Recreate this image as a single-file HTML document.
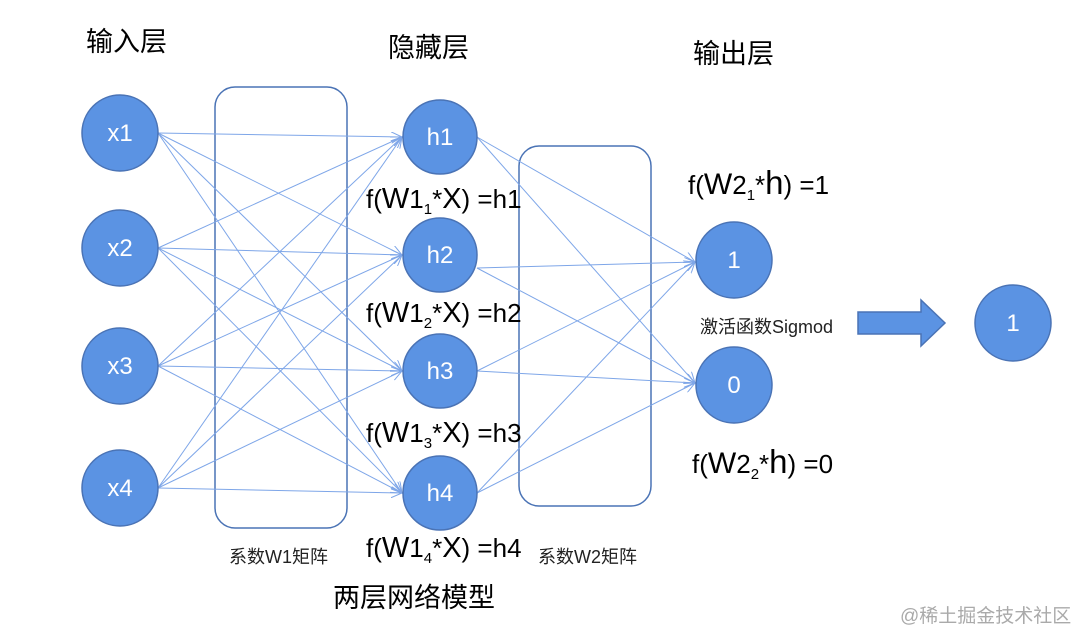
<!DOCTYPE html>
<html><head><meta charset="utf-8"><style>
html,body{margin:0;padding:0;background:#fff;}
svg{display:block;font-family:"Liberation Sans","Noto Sans CJK SC",sans-serif;}
</style></head><body>
<svg width="1080" height="644" viewBox="0 0 1080 644">
<defs>
<marker id="a" markerWidth="12" markerHeight="10" refX="11" refY="5" orient="auto" markerUnits="userSpaceOnUse">
<path d="M0,0 L11,5 L0,10" fill="none" stroke="#7ea6e8" stroke-width="1"/>
</marker>
</defs>
<rect x="215" y="87" width="132" height="441" rx="20" fill="none" stroke="#4a73b5" stroke-width="1.5"/>
<rect x="519" y="146" width="132" height="360" rx="20" fill="none" stroke="#4a73b5" stroke-width="1.5"/>
<g stroke="#7ea6e8" stroke-width="1" marker-end="url(#a)">
<line x1="158" y1="133" x2="402" y2="137"/><line x1="158" y1="133" x2="402" y2="255"/><line x1="158" y1="133" x2="402" y2="371"/><line x1="158" y1="133" x2="402" y2="493"/>
<line x1="158" y1="248" x2="402" y2="137"/><line x1="158" y1="248" x2="402" y2="255"/><line x1="158" y1="248" x2="402" y2="371"/><line x1="158" y1="248" x2="402" y2="493"/>
<line x1="158" y1="366" x2="402" y2="137"/><line x1="158" y1="366" x2="402" y2="255"/><line x1="158" y1="366" x2="402" y2="371"/><line x1="158" y1="366" x2="402" y2="493"/>
<line x1="158" y1="488" x2="402" y2="137"/><line x1="158" y1="488" x2="402" y2="255"/><line x1="158" y1="488" x2="402" y2="371"/><line x1="158" y1="488" x2="402" y2="493"/>
<line x1="477" y1="137" x2="695" y2="262"/><line x1="477" y1="137" x2="695" y2="383"/>
<line x1="477" y1="268" x2="695" y2="262"/><line x1="477" y1="268" x2="695" y2="383"/>
<line x1="477" y1="371" x2="695" y2="262"/><line x1="477" y1="371" x2="695" y2="383"/>
<line x1="477" y1="493" x2="695" y2="262"/><line x1="477" y1="493" x2="695" y2="383"/>
</g>
<g fill="#5b93e3" stroke="#4a73b5" stroke-width="1.5">
<circle cx="120" cy="133" r="38"/><circle cx="120" cy="248" r="38"/><circle cx="120" cy="366" r="38"/><circle cx="120" cy="488" r="38"/>
<circle cx="440" cy="137" r="37"/><circle cx="440" cy="255" r="37"/><circle cx="440" cy="371" r="37"/><circle cx="440" cy="493" r="37"/>
<circle cx="734" cy="260" r="38"/><circle cx="734" cy="385" r="38"/>
<circle cx="1013" cy="323" r="38"/>
<path d="M858,312 L921,312 L921,300 L945,323 L921,346 L921,334 L858,334 Z"/>
</g>
<g fill="#fff" font-size="24" text-anchor="middle">
<text x="120" y="141">x1</text><text x="120" y="256">x2</text><text x="120" y="374">x3</text><text x="120" y="496">x4</text>
<text x="440" y="145">h1</text><text x="440" y="263">h2</text><text x="440" y="379">h3</text><text x="440" y="501">h4</text>
<text x="734" y="268">1</text><text x="734" y="393">0</text><text x="1013" y="331">1</text>
</g>
<g fill="#000" font-size="27">
<text x="86" y="51">输入层</text>
<text x="388" y="57">隐藏层</text>
<text x="693" y="63">输出层</text>
<text x="333" y="607">两层网络模型</text>
</g>
<g fill="#000" font-size="26">
<text x="366" y="208">f(<tspan font-size="29">W</tspan>1<tspan font-size="15" dy="6">1</tspan><tspan dy="-6">*</tspan><tspan font-size="29">X</tspan>) =h1</text>
<text x="366" y="322">f(<tspan font-size="29">W</tspan>1<tspan font-size="15" dy="6">2</tspan><tspan dy="-6">*</tspan><tspan font-size="29">X</tspan>) =h2</text>
<text x="366" y="442">f(<tspan font-size="29">W</tspan>1<tspan font-size="15" dy="6">3</tspan><tspan dy="-6">*</tspan><tspan font-size="29">X</tspan>) =h3</text>
<text x="366" y="557">f(<tspan font-size="29">W</tspan>1<tspan font-size="15" dy="6">4</tspan><tspan dy="-6">*</tspan><tspan font-size="29">X</tspan>) =h4</text>
<text x="688" y="194">f(<tspan font-size="30">W</tspan>2<tspan font-size="15" dy="6">1</tspan><tspan dy="-6">*</tspan><tspan font-size="33">h</tspan>) =1</text>
<text x="692" y="473">f(<tspan font-size="30">W</tspan>2<tspan font-size="15" dy="6">2</tspan><tspan dy="-6">*</tspan><tspan font-size="33">h</tspan>) =0</text>
</g>
<g fill="#222" font-size="18">
<text x="700" y="333">激活函数Sigmod</text>
<text x="229" y="563">系数W1矩阵</text>
<text x="538" y="563">系数W2矩阵</text>
</g>
<text x="900" y="622" fill="#aaa" font-size="19">@稀土掘金技术社区</text>
</svg>
</body></html>
